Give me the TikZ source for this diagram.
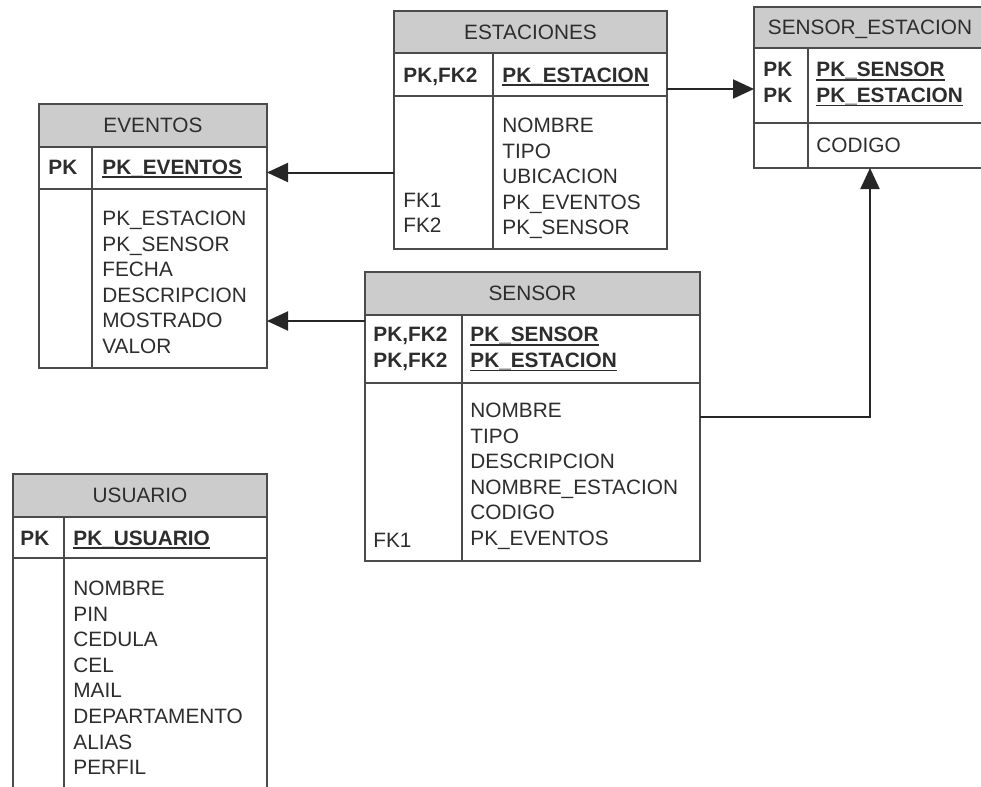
\documentclass[tikz,border=0pt]{standalone}
\usepackage{fontspec}
\setmainfont{Liberation Sans}
\usetikzlibrary{positioning,arrows.meta,calc}
\definecolor{tblgray}{RGB}{204,204,204}
\definecolor{tblline}{RGB}{75,75,75}
\definecolor{tbltext}{RGB}{45,45,45}
\newcommand{\tblfont}{\fontsize{10.4}{12.8}\selectfont}
\newcommand{\pkfield}[1]{\setbox0\hbox{\bfseries #1}\rlap{\rule[-1.8pt]{\wd0}{0.8pt}}\box0}
\tikzset{
  tblhead/.style={draw=tblline, line width=1pt, fill=tblgray, outer sep=0pt, inner sep=0pt,
                  anchor=north west, font=\tblfont, text=tbltext, text depth=0pt},
  tblrow/.style={draw=tblline, line width=1pt, fill=white, outer sep=0pt, inner sep=0pt},
  tblsep/.style={draw=tblline, line width=1pt},
  keycol/.style={anchor=north west, inner sep=0pt, align=left, font=\tblfont\bfseries, text=tbltext},
  fkcol/.style={keycol, font=\tblfont},
  fields/.style={anchor=north west, inner sep=0pt, align=left, font=\tblfont, text=tbltext},
  fk/.style={-{Triangle[length=10.5pt, width=9.5pt]}, line width=1pt, black!85}
}

\begin{document}
\begin{tikzpicture}[x=0.5pt, y=-0.5pt]
  \useasboundingbox (0,0) rectangle (981,787);
  % ESTACIONES
  \node[tblhead, minimum width=136.5pt, minimum height=21pt] (est) at (394,11) {ESTACIONES};
  \node[tblrow, below=0pt of est, minimum width=136.5pt, minimum height=21.5pt] (estpk) {};
  \node[tblrow, below=0pt of estpk, minimum width=136.5pt, minimum height=76.5pt] (estbody) {};
  \draw[tblsep] ([xshift=49.5pt]estpk.north west) -- ([xshift=49.5pt]estbody.south west);
  \node[keycol] (estkey) at (403,67.5) {PK,FK2};
  \node[fields] (estid) at (502,67.5) {\pkfield{PK\_ESTACION}};
  \node[fields] (estf) at (502,117.5) {NOMBRE\\TIPO\\UBICACION\\PK\_EVENTOS\\PK\_SENSOR};
  \node[fkcol] (estfk) at (403,192.5) {FK1\\FK2};

  % SENSOR_ESTACION
  \node[tblhead, minimum width=116pt, minimum height=20.5pt] (se) at (754,7) {SENSOR\_ESTACION};
  \node[tblrow, below=0pt of se, minimum width=116pt, minimum height=37.5pt] (sepk) {};
  \node[tblrow, below=0pt of sepk, minimum width=116pt, minimum height=22.5pt] (sebody) {};
  \draw[tblsep] ([xshift=27pt]sepk.north west) -- ([xshift=27pt]sebody.south west);
  \node[keycol] (sekey) at (763,62) {PK\\PK};
  \node[fields] (seid) at (816,62) {\pkfield{PK\_SENSOR}\\\pkfield{PK\_ESTACION}};
  \node[fields] (sef) at (816,137.5) {CODIGO};

  % EVENTOS
  \node[tblhead, minimum width=114pt, minimum height=21.5pt] (ev) at (39,104) {EVENTOS};
  \node[tblrow, below=0pt of ev, minimum width=114pt, minimum height=21pt] (evpk) {};
  \node[tblrow, below=0pt of evpk, minimum width=114pt, minimum height=89.5pt] (evbody) {};
  \draw[tblsep] ([xshift=26.5pt]evpk.north west) -- ([xshift=26.5pt]evbody.south west);
  \node[keycol] (evkey) at (48,159.5) {PK};
  \node[fields] (evid) at (102,159.5) {\pkfield{PK\_EVENTOS}};
  \node[fields] (evf) at (102,210.5) {PK\_ESTACION\\PK\_SENSOR\\FECHA\\DESCRIPCION\\MOSTRADO\\VALOR};

  % SENSOR
  \node[tblhead, minimum width=167.5pt, minimum height=21.5pt] (sn) at (365,272) {SENSOR};
  \node[tblrow, below=0pt of sn, minimum width=167.5pt, minimum height=34pt] (snpk) {};
  \node[tblrow, below=0pt of snpk, minimum width=167.5pt, minimum height=89pt] (snbody) {};
  \draw[tblsep] ([xshift=48.5pt]snpk.north west) -- ([xshift=48.5pt]snbody.south west);
  \node[keycol] (snkey) at (373,327) {PK,FK2\\PK,FK2};
  \node[fields] (snid) at (470,327) {\pkfield{PK\_SENSOR}\\\pkfield{PK\_ESTACION}};
  \node[fields] (snf) at (470,402.5) {NOMBRE\\TIPO\\DESCRIPCION\\NOMBRE\_ESTACION\\CODIGO\\PK\_EVENTOS};
  \node[fkcol] (snfk) at (373,532.5) {FK1};

  % USUARIO
  \node[tblhead, minimum width=127pt, minimum height=21.5pt] (us) at (13,474) {USUARIO};
  \node[tblrow, below=0pt of us, minimum width=127pt, minimum height=20.5pt] (uspk) {};
  \node[tblrow, below=0pt of uspk, minimum width=127pt, minimum height=121pt] (usbody) {};
  \draw[tblsep] ([xshift=25.5pt]uspk.north west) -- ([xshift=25.5pt]usbody.south west);
  \node[keycol] (uskey) at (20,530.5) {PK};
  \node[fields] (usid) at (73,530.5) {\pkfield{PK\_USUARIO}};
  \node[fields] (usf) at (73,580.5) {NOMBRE\\PIN\\CEDULA\\CEL\\MAIL\\DEPARTAMENTO\\ALIAS\\PERFIL};

  % relaciones
  \coordinate (est2se) at ([yshift=-1.75pt]sepk.west -| estpk.east);
  \coordinate (sn2ev) at ([yshift=-13.75pt]sn.west);
  \coordinate (sn2se) at ([yshift=27.5pt]snbody.east);
  \draw[fk] (estbody.west) -- (estbody.west -| evbody.east);
  \draw[fk] (est2se) -- (est2se -| sepk.west);
  \draw[fk] (sn2ev) -- (sn2ev -| evbody.east);
  \draw[fk] (sn2se) -| (sebody.south);
\end{tikzpicture}
\end{document}
